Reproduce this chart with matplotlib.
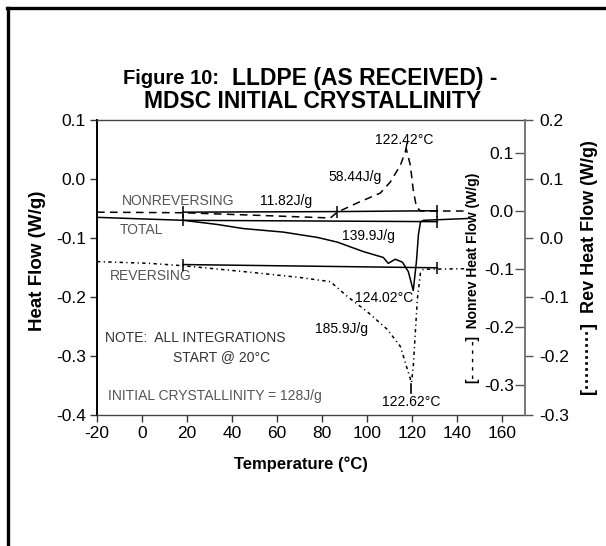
import matplotlib
matplotlib.use("Agg")
import matplotlib.pyplot as plt
from matplotlib.lines import Line2D

plt.rcParams['font.family'] = ['Liberation Sans', 'DejaVu Sans']
plt.rcParams['axes.unicode_minus'] = False

# ---------------- data ----------------
temp_total = [-20, 18.2, 33.3, 44.9, 62.7, 77.8, 86.7, 98.2, 107.1, 109.3, 112.4,
              115.6, 118.2, 120.4, 121.8, 122.7, 123.6, 124.9, 144.4]
total_hf = [-0.065, -0.070, -0.077, -0.084, -0.090, -0.099, -0.107, -0.123, -0.133,
            -0.143, -0.136, -0.141, -0.157, -0.189, -0.140, -0.094, -0.073, -0.070, -0.067]

temp_nonrev = [-20, 18.2, 48, 83.6, 86.7, 95.6, 105.8, 110.2, 114.7, 117.3, 119.1,
               120.4, 121.8, 123.6, 144.4]
nonrev_hf = [-0.002, -0.003, -0.007, -0.012, -0.002, 0.014, 0.031, 0.050, 0.079,
             0.107, 0.079, 0.036, 0.007, 0.0, 0.0]

temp_rev = [-20, 3.6, 18.2, 48, 70.2, 83.6, 91.1, 100, 108.9, 114.7, 117.8, 119.6,
            120.4, 121.3, 122.2, 123.6, 124.9, 144.4]
rev_hf = [-0.040, -0.043, -0.047, -0.058, -0.067, -0.074, -0.099, -0.125, -0.155,
          -0.184, -0.223, -0.245, -0.218, -0.161, -0.104, -0.059, -0.053, -0.052]

# integration baselines
nonrev_base_t = [18.2, 86.7, 131.1]
nonrev_base_v = [-0.002, -0.001, 0.0005]
total_base_t = [18.2, 131.1]
total_base_v = [-0.070, -0.0723]
rev_base_t = [18.2, 131.1]
rev_base_v = [-0.045, -0.0505]

x_ticks = list(range(-20, 161, 20))
left_ticks = [0.1, 0.0, -0.1, -0.2, -0.3, -0.4]
nonrev_ticks = [0.1, 0.0, -0.1, -0.2, -0.3]
rev_ticks = [0.2, 0.1, 0.0, -0.1, -0.2, -0.3]

# ---------------- figure ----------------
W, H = 606, 546
fig = plt.figure(figsize=(W / 100, H / 100), dpi=100)

# outer frame lines (top and left)
fig.add_artist(Line2D([7 / W, 1.0], [1 - 8 / H, 1 - 8 / H], color='black', lw=2.4))
fig.add_artist(Line2D([8 / W, 8 / W], [0, 1 - 8 / H], color='black', lw=2.4))

ax = fig.add_axes([97 / W, 1 - 415 / H, (525 - 97) / W, (415 - 120) / H])
ax.set_xlim(-20, 170)
ax.set_ylim(-0.4, 0.1)

ax_nr = ax.twinx()
ax_nr.set_ylim(-0.3517, 0.1569)
ax_rev = ax.twinx()
ax_rev.set_ylim(-0.3, 0.2)

# spines
for s in ['top', 'bottom']:
    ax.spines[s].set_color('#444444')
    ax.spines[s].set_linewidth(1.0)
ax.spines['left'].set_color('black')
ax.spines['left'].set_linewidth(1.4)
ax.spines['right'].set_visible(False)

for s in ['top', 'bottom', 'right']:
    ax_nr.spines[s].set_visible(False)
ax_nr.spines['left'].set_visible(True)
ax_nr.spines['left'].set_position(('axes', 1.0))
ax_nr.spines['left'].set_color('#777777')
ax_nr.spines['left'].set_linewidth(1.2)
ax_nr.yaxis.set_ticks_position('left')
ax_nr.yaxis.set_label_position('left')

for s in ['top', 'bottom', 'left']:
    ax_rev.spines[s].set_visible(False)
ax_rev.spines['right'].set_color('#777777')
ax_rev.spines['right'].set_linewidth(1.2)

# ticks
ax.set_xticks(x_ticks)
ax.set_xticklabels([str(t) for t in x_ticks])
ax.set_yticks(left_ticks)
ax.set_yticklabels([f"{t:.1f}" for t in left_ticks])
ax.tick_params(axis='both', direction='out', length=5, width=1, colors='#333333',
               labelcolor='black', labelsize=12.5, pad=3)

ax_nr.set_yticks(nonrev_ticks)
ax_nr.set_yticklabels([f"{t:.1f}" for t in nonrev_ticks])
ax_nr.tick_params(axis='y', direction='out', length=7, width=1, colors='#555555',
                  labelcolor='black', labelsize=12.5, pad=1)

ax_rev.set_yticks(rev_ticks)
ax_rev.set_yticklabels([f"{t:.1f}" for t in rev_ticks])
ax_rev.tick_params(axis='y', direction='out', length=6, width=1, colors='#555555',
                   labelcolor='black', labelsize=12.5, pad=4)

# curves
ax.plot(temp_total, total_hf, color='black', lw=1.1, solid_joinstyle='round')
ax_nr.plot(temp_nonrev, nonrev_hf, color='black', lw=1.1, dashes=(5, 3.5))
ax_rev.plot(temp_rev, rev_hf, color='black', lw=1.1, dashes=(2.2, 2.2, 0.8, 2.2))

# integration baselines
ax.plot(total_base_t, total_base_v, color='black', lw=1.1, marker='|', ms=9, mew=1.1)
ax_nr.plot(nonrev_base_t, nonrev_base_v, color='black', lw=1.1, marker='|', ms=9, mew=1.1)
ax_rev.plot(rev_base_t, rev_base_v, color='black', lw=1.1, marker='|', ms=9, mew=1.1)

# small leader ticks at peaks
ax_nr.plot([117.0, 117.6], [0.104, 0.117], color='black', lw=1.0)
ax_rev.plot([119.6, 119.6], [-0.247, -0.262], color='black', lw=1.2)

# annotations
grey = '#555555'
fs = 10
ax.text(-8.9, -0.0378, 'NONREVERSING', color=grey, fontsize=fs, va='center', ha='left')
ax.text(-9.8, -0.087, 'TOTAL', color=grey, fontsize=fs, va='center', ha='left')
ax.text(-14.2, -0.165, 'REVERSING', color=grey, fontsize=fs, va='center', ha='left')
ax.text(-16.4, -0.269, 'NOTE:  ALL INTEGRATIONS', color='#333333', fontsize=fs, va='center', ha='left')
ax.text(56.9, -0.301, 'START @ 20°C', color='#333333', fontsize=fs, va='center', ha='right')
ax.text(-15.1, -0.368, 'INITIAL CRYSTALLINITY = 128J/g', color=grey, fontsize=fs, va='center', ha='left')

ax.text(52.4, -0.0378, '11.82J/g', fontsize=fs, va='center', ha='left')
ax.text(82.7, 0.003, '58.44J/g', fontsize=fs, va='center', ha='left')
ax.text(88.9, -0.097, '139.9J/g', fontsize=fs, va='center', ha='left')
ax.text(94.7, -0.201, '124.02°C', fontsize=fs, va='center', ha='left')
ax.text(76.9, -0.255, '185.9J/g', fontsize=fs, va='center', ha='left')
ax.text(106.7, -0.378, '122.62°C', fontsize=fs, va='center', ha='left')
ax.text(103.6, 0.066, '122.42°C', fontsize=fs, va='center', ha='left')

# axis labels
fig.text(37 / W, 1 - 261 / H, 'Heat Flow (W/g)', rotation=90, fontsize=13.5,
         fontweight='bold', ha='center', va='center')
fig.text(301 / W, 1 - 464 / H, 'Temperature (°C)', fontsize=12,
         fontweight='bold', ha='center', va='center')
fig.text(473 / W, 1 - 278 / H, '[- - - - -]  Nonrev Heat Flow (W/g)', rotation=90,
         fontsize=10, fontweight='bold', ha='center', va='center')
fig.text(589 / W, 1 - 268 / H, '[··········]  Rev Heat Flow (W/g)', rotation=90,
         fontsize=13, fontweight='bold', ha='center', va='center')

# title
fig.text(123 / W, 1 - 79 / H, 'Figure 10:', fontsize=14.5, fontweight='bold',
         ha='left', va='center')
fig.text(232 / W, 1 - 79 / H, 'LLDPE (AS RECEIVED) -', fontsize=16.5, fontweight='bold',
         ha='left', va='center')
fig.text(313 / W, 1 - 102 / H, 'MDSC INITIAL CRYSTALLINITY', fontsize=16.5,
         fontweight='bold', ha='center', va='center')

fig.savefig('out.png', dpi=100)
